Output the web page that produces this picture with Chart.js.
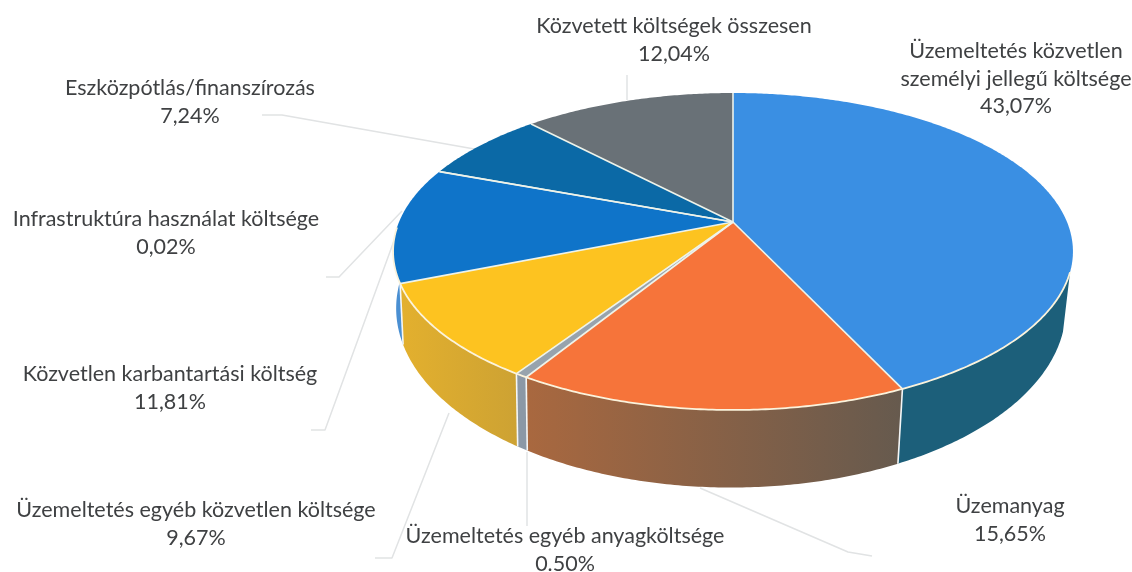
<!DOCTYPE html>
<html>
<head>
<meta charset="utf-8">
<style>
    html, body { margin: 0; background: #fff; }
    canvas { display: block; }
</style>
<script src="https://cdn.jsdelivr.net/npm/chart.js@4"></script>
</head>
<body>
<canvas id="costChart" width="1132" height="572"></canvas>
<script>
//Chart data
const categories = [
    ["Üzemeltetés közvetlen", "személyi jellegű költsége"],
    ["Üzemanyag"],
    ["Üzemeltetés egyéb anyagköltsége"],
    ["Üzemeltetés egyéb közvetlen költsége"],
    ["Közvetlen karbantartási költség"],
    ["Infrastruktúra használat költsége"],
    ["Eszközpótlás/finanszírozás"],
    ["Közvetett költségek összesen"]
];
const shares = [43.07, 15.65, 0.50, 9.67, 11.81, 0.02, 7.24, 12.04];
const shareLabels = ["43,07%", "15,65%", "0.50%", "9,67%", "11,81%", "0,02%", "7,24%", "12,04%"];

//Colours of the top face and the side wall (left and right end of the gradient)
const topColors = ["#3a8fe3", "#f6743a", "#97a3ad", "#fdc320", "#0f74c9", "#dbe9f5", "#0b69a6", "#697177"];
const wallLeft = ["#1c5f7a", "#a9683f", "#8b98a6", "#e3b02e", "#4a8fd2", "#4a8fd2", "#0b4f7a", "#4f565a"];
const wallRight = ["#1c5f7a", "#665a4e", "#8b98a6", "#cda233", "#4a8fd2", "#4a8fd2", "#0b4f7a", "#4f565a"];

//Label anchors: centre x, baseline of first line
const labelPos = [[1016, 58], [1010, 513], [565, 543], [196, 517], [170, 381], [166, 226], [190, 95], [674, 33]];
const lineHeight = 27.5;

//Leader lines, in page pixels
const leaders = [
    [[627, 100], [627, 75]],
    [[262, 115], [282, 115], [480, 150]],
    [[326, 277], [339, 277], [402, 211]],
    [[311, 430], [325, 430], [395, 238]],
    [[375, 558], [392, 558], [449, 413]],
    [[527, 452], [527, 526]],
    [[700, 488], [848, 552], [872, 556]]
];

//Perspective view of the disc: the tilt moves the apex off the ellipse centre
const topFace = {cx: 733, cy: 222, a: 334, b: 153, k: 0.186};
const bottomFace = {cx: 731, cy: 275, a: 329, b: 173, k: 0.186};
const wallStart = 108 * Math.PI / 180;
const wallEnd = 268 * Math.PI / 180;

function project(face, t) {
    const u = Math.sin(t);
    const v = Math.cos(t);
    const w = 1 + face.k * v;
    return [face.cx + face.a * u / w, face.cy - face.b * v / w];
}

function tracePoints(ctx, points) {
    points.forEach(function(p, i) {
        if (i === 0) ctx.moveTo(p[0], p[1]);
        else ctx.lineTo(p[0], p[1]);
    });
}

function arcPoints(face, from, to) {
    const steps = Math.max(2, Math.ceil(Math.abs(to - from) / 0.01));
    const points = [];
    for (let s = 0; s <= steps; s++) {
        points.push(project(face, from + (to - from) * s / steps));
    }
    return points;
}

//Draws the arcs chart.js laid out through the perspective above
const pie3d = {
    id: 'pie3d',
    beforeDatasetsDraw(chart) {
        const ctx = chart.ctx;
        const arcs = chart.getDatasetMeta(0).data;
        const angles = arcs.map(function(arc) {
            //chart.js measures from 3 o'clock, the view from 12 o'clock
            return [arc.startAngle + Math.PI / 2, arc.endAngle + Math.PI / 2];
        });
        ctx.save();
        ctx.lineJoin = 'round';

        //leader lines go under the pie
        ctx.strokeStyle = '#e1e3e4';
        ctx.lineWidth = 1.5;
        leaders.forEach(function(line) {
            ctx.beginPath();
            tracePoints(ctx, line);
            ctx.stroke();
        });

        //side walls
        angles.forEach(function(a, i) {
            const from = Math.max(a[0], wallStart);
            const to = Math.min(a[1], wallEnd);
            if (to <= from) return;
            const upper = arcPoints(topFace, from, to);
            const lower = arcPoints(bottomFace, to, from);
            const xs = upper.concat(lower).map(function(p) { return p[0]; });
            const grad = ctx.createLinearGradient(Math.min.apply(null, xs), 0, Math.max.apply(null, xs), 0);
            grad.addColorStop(0, wallLeft[i]);
            grad.addColorStop(1, wallRight[i]);
            ctx.beginPath();
            tracePoints(ctx, upper.concat(lower));
            ctx.closePath();
            ctx.fillStyle = grad;
            ctx.fill();
        });
        //white seams between the walls
        ctx.strokeStyle = '#f4f6f6';
        ctx.lineWidth = 1.6;
        angles.forEach(function(a) {
            if (a[0] <= wallStart || a[0] >= wallEnd || a[1] - a[0] < 0.001) return;
            const p = project(topFace, a[0]);
            const q = project(bottomFace, a[0]);
            ctx.beginPath();
            ctx.moveTo(p[0], p[1]);
            ctx.lineTo(q[0], q[1]);
            ctx.stroke();
        });

        //top face
        angles.forEach(function(a, i) {
            ctx.beginPath();
            tracePoints(ctx, [[topFace.cx, topFace.cy]].concat(arcPoints(topFace, a[0], a[1])));
            ctx.closePath();
            ctx.fillStyle = topColors[i];
            ctx.fill();
        });
        angles.forEach(function(a) {
            const p = project(topFace, a[0]);
            ctx.beginPath();
            ctx.moveTo(topFace.cx, topFace.cy);
            ctx.lineTo(p[0], p[1]);
            ctx.strokeStyle = '#eef3ea';
            ctx.lineWidth = 1.6;
            ctx.stroke();
        });
        //pale rim above the walls
        ctx.beginPath();
        tracePoints(ctx, arcPoints(topFace, wallStart, wallEnd));
        ctx.strokeStyle = '#fbf3dc';
        ctx.lineWidth = 1.8;
        ctx.stroke();
        ctx.restore();
        return false;
    },
    afterDraw(chart) {
        const ctx = chart.ctx;
        ctx.save();
        ctx.font = '21.5px Lato';
        ctx.fillStyle = '#3f4143';
        ctx.textAlign = 'center';
        categories.forEach(function(lines, i) {
            const pos = labelPos[i];
            lines.concat(shareLabels[i]).forEach(function(text, n) {
                ctx.fillText(text, pos[0], pos[1] + n * lineHeight);
            });
        });
        ctx.restore();
    }
};

const costChart = new Chart(
    document.getElementById('costChart'),
    {
        type: 'pie',
        data: {
            labels: categories.map(function(c) { return c.join(' '); }),
            datasets: [{
                data: shares,
                backgroundColor: topColors,
                borderWidth: 0
            }]
        },
        options: {
            responsive: false,
            animation: false,
            plugins: {
                legend: {display: false},
                tooltip: {enabled: false}
            }
        },
        plugins: [pie3d]
    }
);
</script>
</body>
</html>
